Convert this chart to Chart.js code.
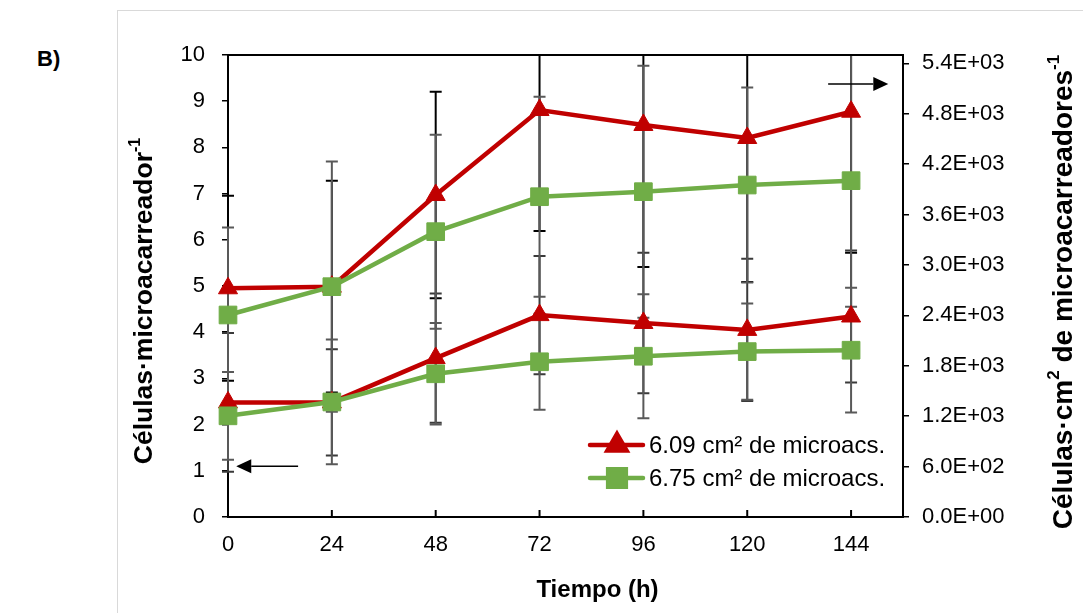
<!DOCTYPE html>
<html>
<head>
<meta charset="utf-8">
<script src="https://cdn.jsdelivr.net/npm/chart.js@4.4.1/dist/chart.umd.min.js"></script>
<style>
  html, body { margin: 0; padding: 0; background: #fff; overflow: hidden; }
  #wrap { position: relative; width: 1083px; height: 613px; }
  #frame { position: absolute; left: 117px; top: 10px; width: 1100px; height: 700px; border: 1.5px solid #d9d9d9; }
  #panel { position: absolute; left: 37px; top: 46px; font: bold 22px "Liberation Sans", Arial, sans-serif; color: #000; }
  canvas { position: absolute; left: 0; top: 0; }
</style>
</head>
<body>
<div id="wrap">
  <div id="frame"></div>
  <div id="panel">B)</div>
  <canvas id="cellsChart" width="1083" height="613"></canvas>
</div>
<script>
// Cell growth on microcarriers, two microcarrier areas, left + right axes

const hours = [0, 24, 48, 72, 96, 120, 144];
const rightTicks = [0, 600, 1200, 1800, 2400, 3000, 3600, 4200, 4800, 5400];

// cells per microcarrier (left axis)
const red609Left = [2.48, 2.48, 3.44, 4.37, 4.2, 4.05, 4.34];
const red609LeftErr = [1.5, 1.15, 1.4, 1.28, 1.52, 1.54, 1.43];
const green675Left = [2.19, 2.49, 3.1, 3.36, 3.48, 3.58, 3.61];
const green675LeftErr = [0.95, 1.35, 1.1, 1.04, 1.34, 1.04, 1.35];

// cells per cm2 of microcarrier (right axis)
const red609Right = [2723, 2742, 3833, 4845, 4667, 4512, 4825];
const red609RightErr = [1100, 1260, 1230, 1440, 1690, 1715, 1680];
const green675Right = [2405, 2742, 3397, 3813, 3873, 3952, 4004];
const green675RightErr = [1040, 1490, 1155, 1190, 1500, 1160, 1500];

const legendLabels = ['6.09 cm² de microacs.', '6.75 cm² de microacs.'];

const xTitle = 'Tiempo (h)';
const leftTitle = [{ t: 'Células·microacarreador' }, { t: '-1', sup: true }];
const rightTitle = [{ t: 'Células·cm' }, { t: '2', sup: true }, { t: ' de microacarreadores' }, { t: '-1', sup: true }];

// arrows pointing at the axis each pair of lines belongs to
const arrowLeft = { axis: 'yL', y: 1.1, from: 16.2, to: 1.9 };
const arrowRight = { axis: 'yR', y: 5155, from: 138.7, to: 152.6 };

const RED = '#C00000';
const GREEN = '#70AD47';
const FAMILY = '"Liberation Sans", Arial, sans-serif';

function pts(vals) {
    return hours.map((h, i) => ({ x: h, y: vals[i] }));
}

function sciLabel(v) {
    const [m, e] = v.toExponential(1).toUpperCase().split('E');
    const n = parseInt(e, 10);
    return m + 'E' + (n < 0 ? '-' : '+') + String(Math.abs(n)).padStart(2, '0');
}

function drawRich(ctx, parts, cx, cy, angle, size) {
    const supSize = Math.round(size * 0.62);
    ctx.save();
    ctx.translate(cx, cy);
    ctx.rotate(angle);
    let total = 0;
    parts.forEach(p => {
        ctx.font = 'bold ' + (p.sup ? supSize : size) + 'px ' + FAMILY;
        p.w = ctx.measureText(p.t).width;
        total += p.w;
    });
    let x = -total / 2;
    ctx.textAlign = 'left';
    ctx.textBaseline = 'middle';
    ctx.fillStyle = '#000';
    parts.forEach(p => {
        ctx.font = 'bold ' + (p.sup ? supSize : size) + 'px ' + FAMILY;
        ctx.fillText(p.t, x, p.sup ? -size * 0.36 : 0);
        x += p.w;
    });
    ctx.restore();
}

function drawArrow(chart, a) {
    const { ctx } = chart;
    const xs = chart.scales.x;
    const y = chart.scales[a.axis].getPixelForValue(a.y);
    const x1 = xs.getPixelForValue(a.from);
    const x2 = xs.getPixelForValue(a.to);
    const dir = Math.sign(x2 - x1);
    const head = 15;
    ctx.save();
    ctx.strokeStyle = '#000';
    ctx.fillStyle = '#000';
    ctx.lineWidth = 1.5;
    ctx.beginPath();
    ctx.moveTo(x1, y);
    ctx.lineTo(x2 - dir * head, y);
    ctx.stroke();
    ctx.beginPath();
    ctx.moveTo(x2, y);
    ctx.lineTo(x2 - dir * head, y - 7);
    ctx.lineTo(x2 - dir * head, y + 7);
    ctx.closePath();
    ctx.fill();
    ctx.restore();
}

const errorBars = {
    id: 'errorBars',
    beforeDatasetsDraw(chart) {
        const { ctx, chartArea: area } = chart;
        ctx.save();
        ctx.beginPath();
        ctx.rect(area.left - 10, area.top, area.right - area.left + 20, area.bottom - area.top);
        ctx.clip();
        // draw back-to-front the same way Chart.js stacks the lines
        for (let i = chart.data.datasets.length - 1; i >= 0; i--) {
            const ds = chart.data.datasets[i];
            const xs = chart.scales.x;
            const ys = chart.scales[ds.yAxisID];
            ctx.strokeStyle = ds.errColor;
            ctx.lineWidth = 2;
            ds.data.forEach((p, j) => {
                const x = xs.getPixelForValue(p.x);
                const lo = ys.getPixelForValue(p.y - ds.err[j]);
                const hi = ys.getPixelForValue(p.y + ds.err[j]);
                ctx.beginPath();
                ctx.moveTo(x, lo); ctx.lineTo(x, hi);
                ctx.moveTo(x - 6, lo); ctx.lineTo(x + 6, lo);
                ctx.moveTo(x - 6, hi); ctx.lineTo(x + 6, hi);
                ctx.stroke();
            });
        }
        ctx.restore();
    }
};

const decorations = {
    id: 'decorations',
    beforeDatasetsDraw(chart) {
        const { ctx, chartArea: area } = chart;
        ctx.save();
        ctx.strokeStyle = '#000';
        ctx.lineWidth = 2;
        // top frame line
        ctx.beginPath();
        ctx.moveTo(area.left, area.top);
        ctx.lineTo(area.right, area.top);
        ctx.stroke();
        // x ticks point into the plot
        chart.scales.x.ticks.forEach(t => {
            const x = chart.scales.x.getPixelForValue(t.value);
            ctx.beginPath();
            ctx.moveTo(x, area.bottom);
            ctx.lineTo(x, area.bottom - 7);
            ctx.stroke();
        });
        ctx.restore();
    },
    afterDraw(chart) {
        const { ctx, chartArea: area } = chart;
        drawArrow(chart, arrowLeft);
        drawArrow(chart, arrowRight);

        // axis titles
        ctx.save();
        ctx.font = 'bold 24px ' + FAMILY;
        ctx.fillStyle = '#000';
        ctx.textAlign = 'center';
        ctx.textBaseline = 'middle';
        ctx.fillText(xTitle, (area.left + area.right) / 2 + 32, 590);
        ctx.restore();
        drawRich(ctx, leftTitle, 145, (area.top + area.bottom) / 2 + 15, -Math.PI / 2, 26.5);
        drawRich(ctx, rightTitle, 1064, (area.top + area.bottom) / 2 + 6, -Math.PI / 2, 28);

        // legend inside plot, lower right
        const items = chart.data.datasets.filter(d => d.inLegend)
            .sort((a, b) => a.legendOrder - b.legendOrder);
        const lx = area.right - 313;
        items.forEach((d, k) => {
            const y = area.bottom - 72 + k * 33;
            ctx.save();
            ctx.strokeStyle = d.borderColor;
            ctx.fillStyle = d.backgroundColor;
            ctx.lineWidth = 4.5;
            ctx.lineCap = 'round';
            ctx.beginPath();
            ctx.moveTo(lx, y);
            ctx.lineTo(lx + 53, y);
            ctx.stroke();
            Chart.helpers.drawPoint(ctx, {
                pointStyle: d.pointStyle, radius: d.pointRadius, rotation: 0, borderWidth: 1
            }, lx + 27, y);
            ctx.font = '24px ' + FAMILY;
            ctx.fillStyle = '#000';
            ctx.textAlign = 'left';
            ctx.textBaseline = 'middle';
            ctx.fillText(d.label, lx + 59, y + 1);
            ctx.restore();
        });
    }
};

const ctx = document.getElementById('cellsChart').getContext('2d');

new Chart(ctx, {
    type: 'line',
    data: {
        datasets: [
            {
                label: legendLabels[1], data: pts(green675Left), err: green675LeftErr, yAxisID: 'yL',
                borderColor: GREEN, backgroundColor: GREEN, pointStyle: 'rect', pointRadius: 12.5,
                errColor: '#595959', inLegend: true, legendOrder: 1,
            },
            {
                label: legendLabels[1], data: pts(green675Right), err: green675RightErr, yAxisID: 'yR',
                borderColor: GREEN, backgroundColor: GREEN, pointStyle: 'rect', pointRadius: 12.5,
                errColor: '#595959',
            },
            {
                label: legendLabels[0], data: pts(red609Left), err: red609LeftErr, yAxisID: 'yL',
                borderColor: RED, backgroundColor: RED, pointStyle: 'triangle', pointRadius: 11,
                errColor: '#3a3a3a', inLegend: true, legendOrder: 0,
            },
            {
                label: legendLabels[0], data: pts(red609Right), err: red609RightErr, yAxisID: 'yR',
                borderColor: RED, backgroundColor: RED, pointStyle: 'triangle', pointRadius: 11,
                errColor: '#000',
            },
        ].map(d => Object.assign({
            borderWidth: 4.5, tension: 0, clip: false, pointBorderWidth: 1,
            pointBorderColor: d.borderColor, pointBackgroundColor: d.backgroundColor,
        }, d)),
    },
    options: {
        responsive: false,
        devicePixelRatio: 1,
        animation: false,
        events: [],
        layout: { padding: { top: 55, left: 0, right: 0, bottom: 0 } },
        plugins: { legend: { display: false }, tooltip: { enabled: false } },
        font: { family: FAMILY },
        scales: {
            x: {
                type: 'linear', min: 0, max: 156,
                afterFit: s => { s.height = 96; },
                grid: { display: true, drawOnChartArea: false, drawTicks: false },
                border: { display: true, color: '#000', width: 2 },
                ticks: {
                    stepSize: 24, includeBounds: false, padding: 15, color: '#000',
                    font: { family: FAMILY, size: 22 },
                    callback: v => String(v),
                },
            },
            yL: {
                position: 'left', min: 0, max: 10,
                afterFit: s => { s.width = 228; },
                grid: { display: true, drawOnChartArea: false, drawTicks: true, tickLength: 6, color: '#000', lineWidth: 1.5 },
                border: { display: true, color: '#000', width: 2 },
                ticks: { stepSize: 1, padding: 17, color: '#000', font: { family: FAMILY, size: 22 } },
            },
            yR: {
                position: 'right', min: 0, max: 5500,
                afterFit: s => { s.width = 180; },
                afterBuildTicks: s => { s.ticks = rightTicks.map(v => ({ value: v })); },
                grid: { display: true, drawOnChartArea: false, drawTicks: true, tickLength: 6, color: '#000', lineWidth: 1.5 },
                border: { display: true, color: '#000', width: 2 },
                ticks: {
                    padding: 13, color: '#000',
                    font: { family: FAMILY, size: 22 },
                    callback: v => sciLabel(v),
                },
            },
        },
    },
    plugins: [errorBars, decorations],
});
</script>
</body>
</html>
